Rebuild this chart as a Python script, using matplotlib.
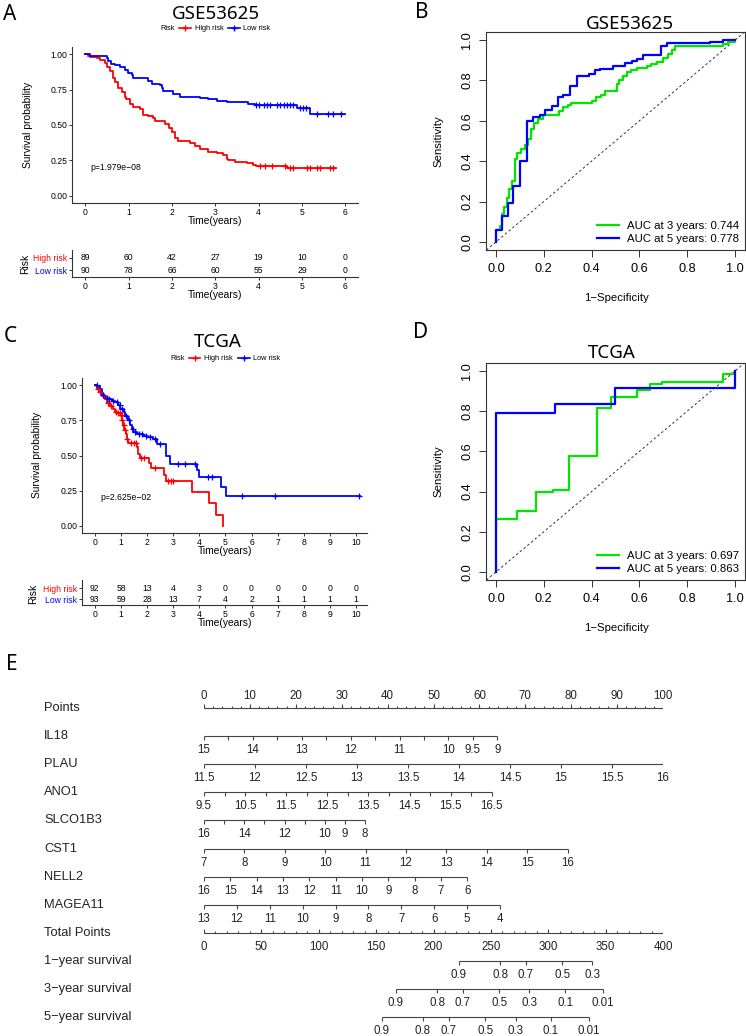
import numpy as np
import matplotlib.pyplot as plt
from matplotlib.lines import Line2D

plt.rcParams['font.family'] = ['Liberation Sans', 'DejaVu Sans']
TITLE_FAMILY = ['Noto Sans', 'DejaVu Sans']

RED = '#FF0000'
BLUE = '#0000FF'
GREEN = '#00E600'

# ---------------- A: GSE53625 Kaplan-Meier ----------------
gse_high_t = [0, 0.07, 0.11, 0.26, 0.34, 0.45, 0.49, 0.57, 0.65, 0.68, 0.76, 0.84, 0.92, 0.95,
              1.03, 1.10, 1.26, 1.34, 1.45, 1.57, 1.60, 1.84, 1.92, 2.00, 2.07, 2.15, 2.42, 2.53,
              2.65, 2.84, 3.03, 3.18, 3.26, 3.30, 3.45, 3.72, 3.88, 3.95, 4.65]
gse_high_s = [1.0, 0.99, 0.98, 0.975, 0.96, 0.94, 0.91, 0.88, 0.83, 0.80, 0.76, 0.73, 0.70, 0.68,
              0.65, 0.63, 0.61, 0.57, 0.56, 0.55, 0.53, 0.51, 0.48, 0.45, 0.41, 0.39, 0.37, 0.35,
              0.33, 0.31, 0.30, 0.29, 0.26, 0.25, 0.24, 0.23, 0.22, 0.21, 0.20]
gse_high_end = 5.78
gse_high_cens = [4.04, 4.15, 4.31, 4.6, 4.72, 4.8, 5.11, 5.18, 5.34, 5.42, 5.65, 5.72]

gse_low_t = [0, 0.1, 0.42, 0.49, 0.53, 0.6, 0.68, 0.8, 0.91, 0.99, 1.07, 1.10, 1.45, 1.53, 1.72,
             1.76, 1.80, 2.03, 2.18, 2.65, 2.84, 3.03, 3.26, 3.76, 3.92, 4.88, 5.18]
gse_low_s = [1.0, 0.99, 0.985, 0.97, 0.95, 0.93, 0.92, 0.91, 0.89, 0.87, 0.85, 0.83, 0.81, 0.79,
             0.78, 0.76, 0.74, 0.72, 0.70, 0.69, 0.68, 0.67, 0.66, 0.65, 0.64, 0.62, 0.58]
gse_low_end = 6.0
gse_low_cens = [3.95, 4.0, 4.12, 4.2, 4.27, 4.43, 4.5, 4.58, 4.65, 4.73, 4.8, 4.95, 5.03, 5.1,
                5.34, 5.6, 5.72, 5.9]

gse_times = [0, 1, 2, 3, 4, 5, 6]
gse_risk_high = [89, 60, 42, 27, 19, 10, 0]
gse_risk_low = [90, 78, 66, 60, 55, 29, 0]
gse_pval = 'p=1.979e\u221208'

# ---------------- C: TCGA Kaplan-Meier ----------------
tcga_high_t = [0, 0.05, 0.1, 0.18, 0.27, 0.4, 0.46, 0.59, 0.71, 0.78, 0.84, 1.0, 1.03, 1.07, 1.12,
               1.18, 1.22, 1.29, 1.63, 1.67, 1.73, 2.07, 2.14, 2.63, 2.73, 3.72, 4.37, 4.63, 4.89]
tcga_high_s = [1.0, 0.99, 0.97, 0.95, 0.92, 0.90, 0.87, 0.85, 0.83, 0.81, 0.80, 0.79, 0.75, 0.72,
               0.68, 0.65, 0.62, 0.59, 0.56, 0.51, 0.48, 0.45, 0.41, 0.36, 0.32, 0.24, 0.16, 0.08, 0.0]
tcga_high_end = 4.89
tcga_high_cens = [0.12, 0.2, 0.35, 0.5, 0.62, 0.8, 0.9, 0.95, 1.01, 1.05, 1.1, 1.15, 1.25, 1.4,
                  1.5, 1.58, 1.76, 1.9, 2.3, 2.82, 2.92, 3.0]

tcga_low_t = [0, 0.1, 0.18, 0.27, 0.36, 0.52, 0.65, 0.78, 0.87, 0.97, 1.1, 1.16, 1.29, 1.35, 1.42,
              1.48, 1.61, 1.86, 2.05, 2.24, 2.37, 2.72, 2.88, 3.9, 3.99, 4.82, 5.01]
tcga_low_s = [1.0, 0.99, 0.97, 0.93, 0.91, 0.90, 0.89, 0.88, 0.86, 0.83, 0.81, 0.78, 0.75, 0.72,
              0.69, 0.67, 0.65, 0.64, 0.63, 0.62, 0.58, 0.50, 0.44, 0.40, 0.35, 0.28, 0.21]
tcga_low_end = 10.15
tcga_low_cens = [0.08, 0.3, 0.45, 0.55, 0.7, 0.85, 0.95, 1.05, 1.2, 1.32, 1.45, 1.55, 1.7, 1.8,
                 1.95, 2.1, 2.3, 2.5, 3.2, 3.46, 3.84, 4.35, 4.48, 5.63, 6.9, 10.1]

tcga_times = [0, 1, 2, 3, 4, 5, 6, 7, 8, 9, 10]
tcga_risk_high = [92, 58, 13, 4, 3, 0, 0, 0, 0, 0, 0]
tcga_risk_low = [93, 59, 28, 13, 7, 4, 2, 1, 1, 1, 1]
tcga_pval = 'p=2.625e\u221202'

# ---------------- B / D: time-dependent ROC ----------------
gse_fpr3 = [0, 0, 0.017, 0.024, 0.035, 0.045, 0.056, 0.066, 0.08, 0.09, 0.105, 0.122, 0.133, 0.145,
            0.16, 0.174, 0.198, 0.262, 0.282, 0.30, 0.314, 0.40, 0.42, 0.44, 0.456, 0.505, 0.515,
            0.53, 0.547, 0.565, 0.589, 0.63, 0.65, 0.672, 0.70, 0.72, 0.735, 0.75, 0.95, 0.97, 1.0]
gse_tpr3 = [0, 0.06, 0.08, 0.14, 0.175, 0.22, 0.26, 0.30, 0.41, 0.44, 0.46, 0.48, 0.51, 0.56,
            0.59, 0.61, 0.63, 0.65, 0.67, 0.68, 0.69, 0.70, 0.72, 0.73, 0.75, 0.78, 0.80,
            0.82, 0.84, 0.85, 0.86, 0.87, 0.88, 0.89, 0.91, 0.93, 0.95, 0.97, 0.98, 0.99, 1.0]
gse_fpr5 = [0, 0, 0.024, 0.049, 0.073, 0.10, 0.128, 0.153, 0.184, 0.205, 0.233, 0.258, 0.282, 0.31,
            0.338, 0.39, 0.414, 0.435, 0.49, 0.54, 0.568, 0.589, 0.616, 0.689, 0.714, 0.895, 0.951, 1.0]
gse_tpr5 = [0, 0.061, 0.127, 0.193, 0.276, 0.40, 0.597, 0.617, 0.63, 0.655, 0.675, 0.716, 0.726,
            0.774, 0.82, 0.83, 0.85, 0.858, 0.87, 0.886, 0.898, 0.908, 0.927, 0.972, 0.985, 0.99, 1.0, 1.0]
gse_auc = [0.744, 0.778]

tcga_fpr3 = [0, 0, 0.086, 0.167, 0.24, 0.305, 0.424, 0.48, 0.589, 0.644, 0.693, 0.948, 1.0, 1.0]
tcga_tpr3 = [0, 0.266, 0.304, 0.399, 0.407, 0.576, 0.814, 0.869, 0.905, 0.935, 0.944, 0.983, 0.983, 1.0]
tcga_fpr5 = [0, 0, 0.247, 0.498, 1.0, 1.0]
tcga_tpr5 = [0, 0.792, 0.834, 0.917, 0.917, 1.0]
tcga_auc = [0.697, 0.863]

# ---------------- E: nomogram ----------------
nomo_rows = ['Points', 'IL18', 'PLAU', 'ANO1', 'SLCO1B3', 'CST1', 'NELL2', 'MAGEA11',
             'Total Points', '1\u2212year survival', '3\u2212year survival', '5\u2212year survival']
il18_ticks = [15, 14.5, 14, 13.5, 13, 12.5, 12, 11.5, 11, 10.5, 10, 9.5, 9]
il18_labels = [15, 14, 13, 12, 11, 10, 9.5, 9]
plau_ticks = [11.5, 12, 12.5, 13, 13.5, 14, 14.5, 15, 15.5, 16]
plau_labels = plau_ticks
ano1_ticks = [9.5, 10, 10.5, 11, 11.5, 12, 12.5, 13, 13.5, 14, 14.5, 15, 15.5, 16, 16.5]
ano1_labels = [9.5, 10.5, 11.5, 12.5, 13.5, 14.5, 15.5, 16.5]
slco1b3_ticks = [16, 15, 14, 13, 12, 11, 10, 9, 8]
slco1b3_labels = [16, 14, 12, 10, 9, 8]
cst1_ticks = [7, 8, 9, 10, 11, 12, 13, 14, 15, 16]
cst1_labels = cst1_ticks
nell2_ticks = [16, 15, 14, 13, 12, 11, 10, 9, 8, 7, 6]
nell2_labels = nell2_ticks
magea11_ticks = [13, 12, 11, 10, 9, 8, 7, 6, 5, 4]
magea11_labels = magea11_ticks
# points reached at the last tick of each predictor
max_points = {'IL18': 63.9, 'PLAU': 100, 'ANO1': 62.7, 'SLCO1B3': 35.1,
              'CST1': 79.2, 'NELL2': 57.4, 'MAGEA11': 64.5}
surv_1y = [0.9, 0.8, 0.7, 0.5, 0.3]
surv_1y_total = [222.2, 258.2, 280.3, 312.3, 338.4]
surv_3y = [0.9, 0.8, 0.7, 0.5, 0.3, 0.1, 0.01]
surv_3y_total = [167.3, 203.3, 225.7, 257.4, 283.5, 314.6, 347.4]
surv_5y = [0.9, 0.8, 0.7, 0.5, 0.3, 0.1, 0.01]
surv_5y_total = [155.1, 190.8, 213.5, 245.1, 271.6, 302.1, 335.3]

W, H = 746, 1036
fig = plt.figure(figsize=(W / 100, H / 100), dpi=100)


def add_ax(left, top, right, bottom):
    return fig.add_axes([left / W, 1 - bottom / H, (right - left) / W, (bottom - top) / H])


def ftext(x, y, s, **kw):
    kw.setdefault('ha', 'center')
    kw.setdefault('va', 'center')
    return fig.text(x / W, 1 - y / H, s, **kw)


def title(x, y, s, size=13.5):
    ftext(x, y, s, family=TITLE_FAMILY, fontsize=size, fontweight='medium')


def km_legend(y, x_risk, red_seg, x_high, blue_seg, x_low):
    ftext(x_risk, y, 'Risk', ha='left', fontsize=5.3)
    for (a, b), xt, lab, col in [(red_seg, x_high, 'High risk', RED), (blue_seg, x_low, 'Low risk', BLUE)]:
        fig.add_artist(Line2D([a / W, b / W], [1 - y / H] * 2, color=col, lw=1.2))
        fig.add_artist(Line2D([(a + b) / 2 / W], [1 - y / H], color=col, marker='+', ms=4, mew=1))
        ftext(xt, y, lab, ha='left', fontsize=5.3)


def km_panel(box, xlim, xticks, curves, pval, pval_xy):
    ax = add_ax(*box)
    for t, s, end, cens, col in curves:
        tt = np.append(t, end)
        ss = np.append(s, s[-1])
        ax.step(tt, ss, where='post', color=col, lw=1.3, zorder=3)
        cy = ss[np.searchsorted(tt, cens, side='right') - 1]
        ax.plot(cens, cy, ls='none', marker='+', ms=4.5, mew=0.9, color=col, zorder=4)
    ax.set_xlim(*xlim)
    ax.set_ylim(-0.05, 1.05)
    ax.set_xticks(xticks)
    ax.set_yticks([0, 0.25, 0.5, 0.75, 1.0])
    ax.set_yticklabels(['0.00', '0.25', '0.50', '0.75', '1.00'])
    for sp in ['top', 'right']:
        ax.spines[sp].set_visible(False)
    for sp in ['left', 'bottom']:
        ax.spines[sp].set_linewidth(0.8)
        ax.spines[sp].set_color('#333333')
    ax.tick_params(length=2.5, width=0.7, labelsize=6.2, pad=1, color='#333333')
    ax.text(pval_xy[0], pval_xy[1], pval, fontsize=6.2, ha='left', va='center')
    ax.patch.set_alpha(0)
    return ax


def risk_table(box, xlim, ylim, times, high, low):
    ax = add_ax(*box)
    for x, h, l in zip(times, high, low):
        ax.text(x, 2, str(h), ha='center', va='center', fontsize=6.2)
        ax.text(x, 1, str(l), ha='center', va='center', fontsize=6.2)
    ax.set_xlim(*xlim)
    ax.set_ylim(*ylim)
    ax.set_xticks(times)
    ax.set_yticks([1, 2])
    ax.set_yticklabels(['Low risk', 'High risk'])
    ax.get_yticklabels()[0].set_color(BLUE)
    ax.get_yticklabels()[1].set_color(RED)
    for sp in ['top', 'right']:
        ax.spines[sp].set_visible(False)
    for sp in ['left', 'bottom']:
        ax.spines[sp].set_linewidth(0.8)
        ax.spines[sp].set_color('#333333')
    ax.tick_params(length=2.5, width=0.7, labelsize=6.2, pad=1, color='#333333')
    ax.patch.set_alpha(0)
    return ax


def roc_panel(box, curves, aucs):
    ax = add_ax(*box)
    ax.axline((0, 0), (1, 1), color='#333333', lw=0.7, ls=(0, (2.5, 2.5)))
    for (fpr, tpr, col), yr, auc in zip(curves, [3, 5], aucs):
        ax.step(fpr, tpr, where='post', color=col, lw=1.6, label=f'AUC at {yr} years: {auc:.3f}')
    ax.set_xlim(-0.04, 1.04)
    ax.set_ylim(-0.04, 1.04)
    ticks = [0, 0.2, 0.4, 0.6, 0.8, 1.0]
    ax.set_xticks(ticks)
    ax.set_xticklabels([f'{v:.1f}' for v in ticks])
    ax.set_yticks(ticks)
    ax.set_yticklabels([f'{v:.1f}' for v in ticks])
    plt.setp(ax.get_yticklabels(), rotation=90, va='center')
    for sp in ax.spines.values():
        sp.set_linewidth(0.8)
        sp.set_color('#333333')
    ax.tick_params(length=5, width=0.7, labelsize=9.2, pad=4.5, color='#333333')
    ax.legend(loc='lower right', frameon=False, fontsize=8.2, handlelength=1.95,
              handletextpad=0.7, labelspacing=0.3, borderpad=0.2, borderaxespad=0.3)
    return ax


# ---- A ----
title(10, 15, 'A', 15)
title(216, 14, 'GSE53625')
km_legend(28, 160, (179, 191), 195, (228, 240), 243)
km_panel((72.3, 47, 358.3, 203), (-0.3, 6.3), gse_times,
         [(gse_high_t, gse_high_s, gse_high_end, gse_high_cens, RED),
          (gse_low_t, gse_low_s, gse_low_end, gse_low_cens, BLUE)],
         gse_pval, (0.12, 0.2))
ftext(28, 125, 'Survival probability', rotation=90, fontsize=7.4)
ftext(215, 221, 'Time(years)', fontsize=7.4)
risk_table((72.3, 250, 358.3, 277), (-0.3, 6.3), (0.418, 2.665), gse_times, gse_risk_high, gse_risk_low)
ftext(25, 264, 'Risk', rotation=90, fontsize=7.4)
ftext(215, 295, 'Time(years)', fontsize=7.4)

# ---- C ----
title(10, 337, 'C', 15)
title(218, 342, 'TCGA')
km_legend(358, 170, (189, 200), 204, (238, 250), 253)
km_panel((82, 378, 367, 533), (-0.49, 10.42), tcga_times,
         [(tcga_high_t, tcga_high_s, tcga_high_end, tcga_high_cens, RED),
          (tcga_low_t, tcga_low_s, tcga_low_end, tcga_low_cens, BLUE)],
         tcga_pval, (0.2, 0.2))
ftext(37, 455, 'Survival probability', rotation=90, fontsize=7.4)
ftext(225, 551, 'Time(years)', fontsize=7.4)
risk_table((82, 580, 367, 605), (-0.49, 10.42), (0.455, 2.73), tcga_times, tcga_risk_high, tcga_risk_low)
ftext(33, 594, 'Risk', rotation=90, fontsize=7.4)
ftext(225, 623, 'Time(years)', fontsize=7.4)

# ---- B ----
title(422, 13, 'B', 15)
title(630, 24, 'GSE53625')
roc_panel((486.4, 32, 744.5, 250),
          [(gse_fpr3, gse_tpr3, GREEN), (gse_fpr5, gse_tpr5, BLUE)], gse_auc)
ftext(438, 141, 'Sensitivity', rotation=90, fontsize=8.2)
ftext(617, 298, '1\u2212Specificity', fontsize=8.2)

# ---- D ----
title(421, 333, 'D', 15)
title(612, 353, 'TCGA')
roc_panel((486.4, 363, 744.5, 580),
          [(tcga_fpr3, tcga_tpr3, GREEN), (tcga_fpr5, tcga_tpr5, BLUE)], tcga_auc)
ftext(438, 471, 'Sensitivity', rotation=90, fontsize=8.2)
ftext(617, 628, '1\u2212Specificity', fontsize=8.2)

# ---- E: nomogram ----
title(12, 664, 'E', 15)
axn = add_ax(204, 650, 663, 1036)
axn.set_xlim(0, 100)
axn.set_ylim(1036, 650)
axn.axis('off')
LC = '#444444'
TC = '#222222'


def row_y(i):
    return 708 + 28.1 * i


def draw_scale(y, pos, lab_pos, labels, up=False, minor=None, lab_dy=14):
    axn.plot([min(pos), max(pos)], [y, y], color=LC, lw=0.8, solid_capstyle='butt')
    sgn = -1 if up else 1
    axn.vlines(pos, y, y + sgn * 4, color=LC, lw=0.8)
    if minor is not None:
        axn.vlines(minor, y, y + sgn * 2, color=LC, lw=0.8)
    for p, l in zip(lab_pos, labels):
        axn.text(p, y + lab_dy, f'{l:g}', ha='center', va='center', fontsize=8.3, color=TC)


for i, name in enumerate(nomo_rows):
    ftext(44, row_y(i), name, ha='left', fontsize=9.3, color=TC)

pts_major = np.arange(0, 101, 10)
pts_minor = np.arange(0, 101, 2)
draw_scale(row_y(0), pts_major, pts_major, pts_major, up=True, minor=pts_minor, lab_dy=-12)

predictors = [('IL18', il18_ticks, il18_labels), ('PLAU', plau_ticks, plau_labels),
              ('ANO1', ano1_ticks, ano1_labels), ('SLCO1B3', slco1b3_ticks, slco1b3_labels),
              ('CST1', cst1_ticks, cst1_labels), ('NELL2', nell2_ticks, nell2_labels),
              ('MAGEA11', magea11_ticks, magea11_labels)]
for k, (name, ticks, labels) in enumerate(predictors):
    v0, v1 = ticks[0], ticks[-1]
    to_pts = lambda v: (np.asarray(v, float) - v0) / (v1 - v0) * max_points[name]
    draw_scale(row_y(k + 1), to_pts(ticks), to_pts(labels), labels)

tot_major = np.arange(0, 401, 50)
tot_minor = np.arange(0, 401, 10)
draw_scale(row_y(8), tot_major / 4, tot_major / 4, tot_major, up=True, minor=tot_minor / 4)

for j, (vals, tps) in enumerate([(surv_1y, surv_1y_total), (surv_3y, surv_3y_total),
                                  (surv_5y, surv_5y_total)]):
    pos = np.asarray(tps) / 4
    draw_scale(row_y(9 + j), pos, pos, vals)

fig.savefig('out.png', dpi=100)
